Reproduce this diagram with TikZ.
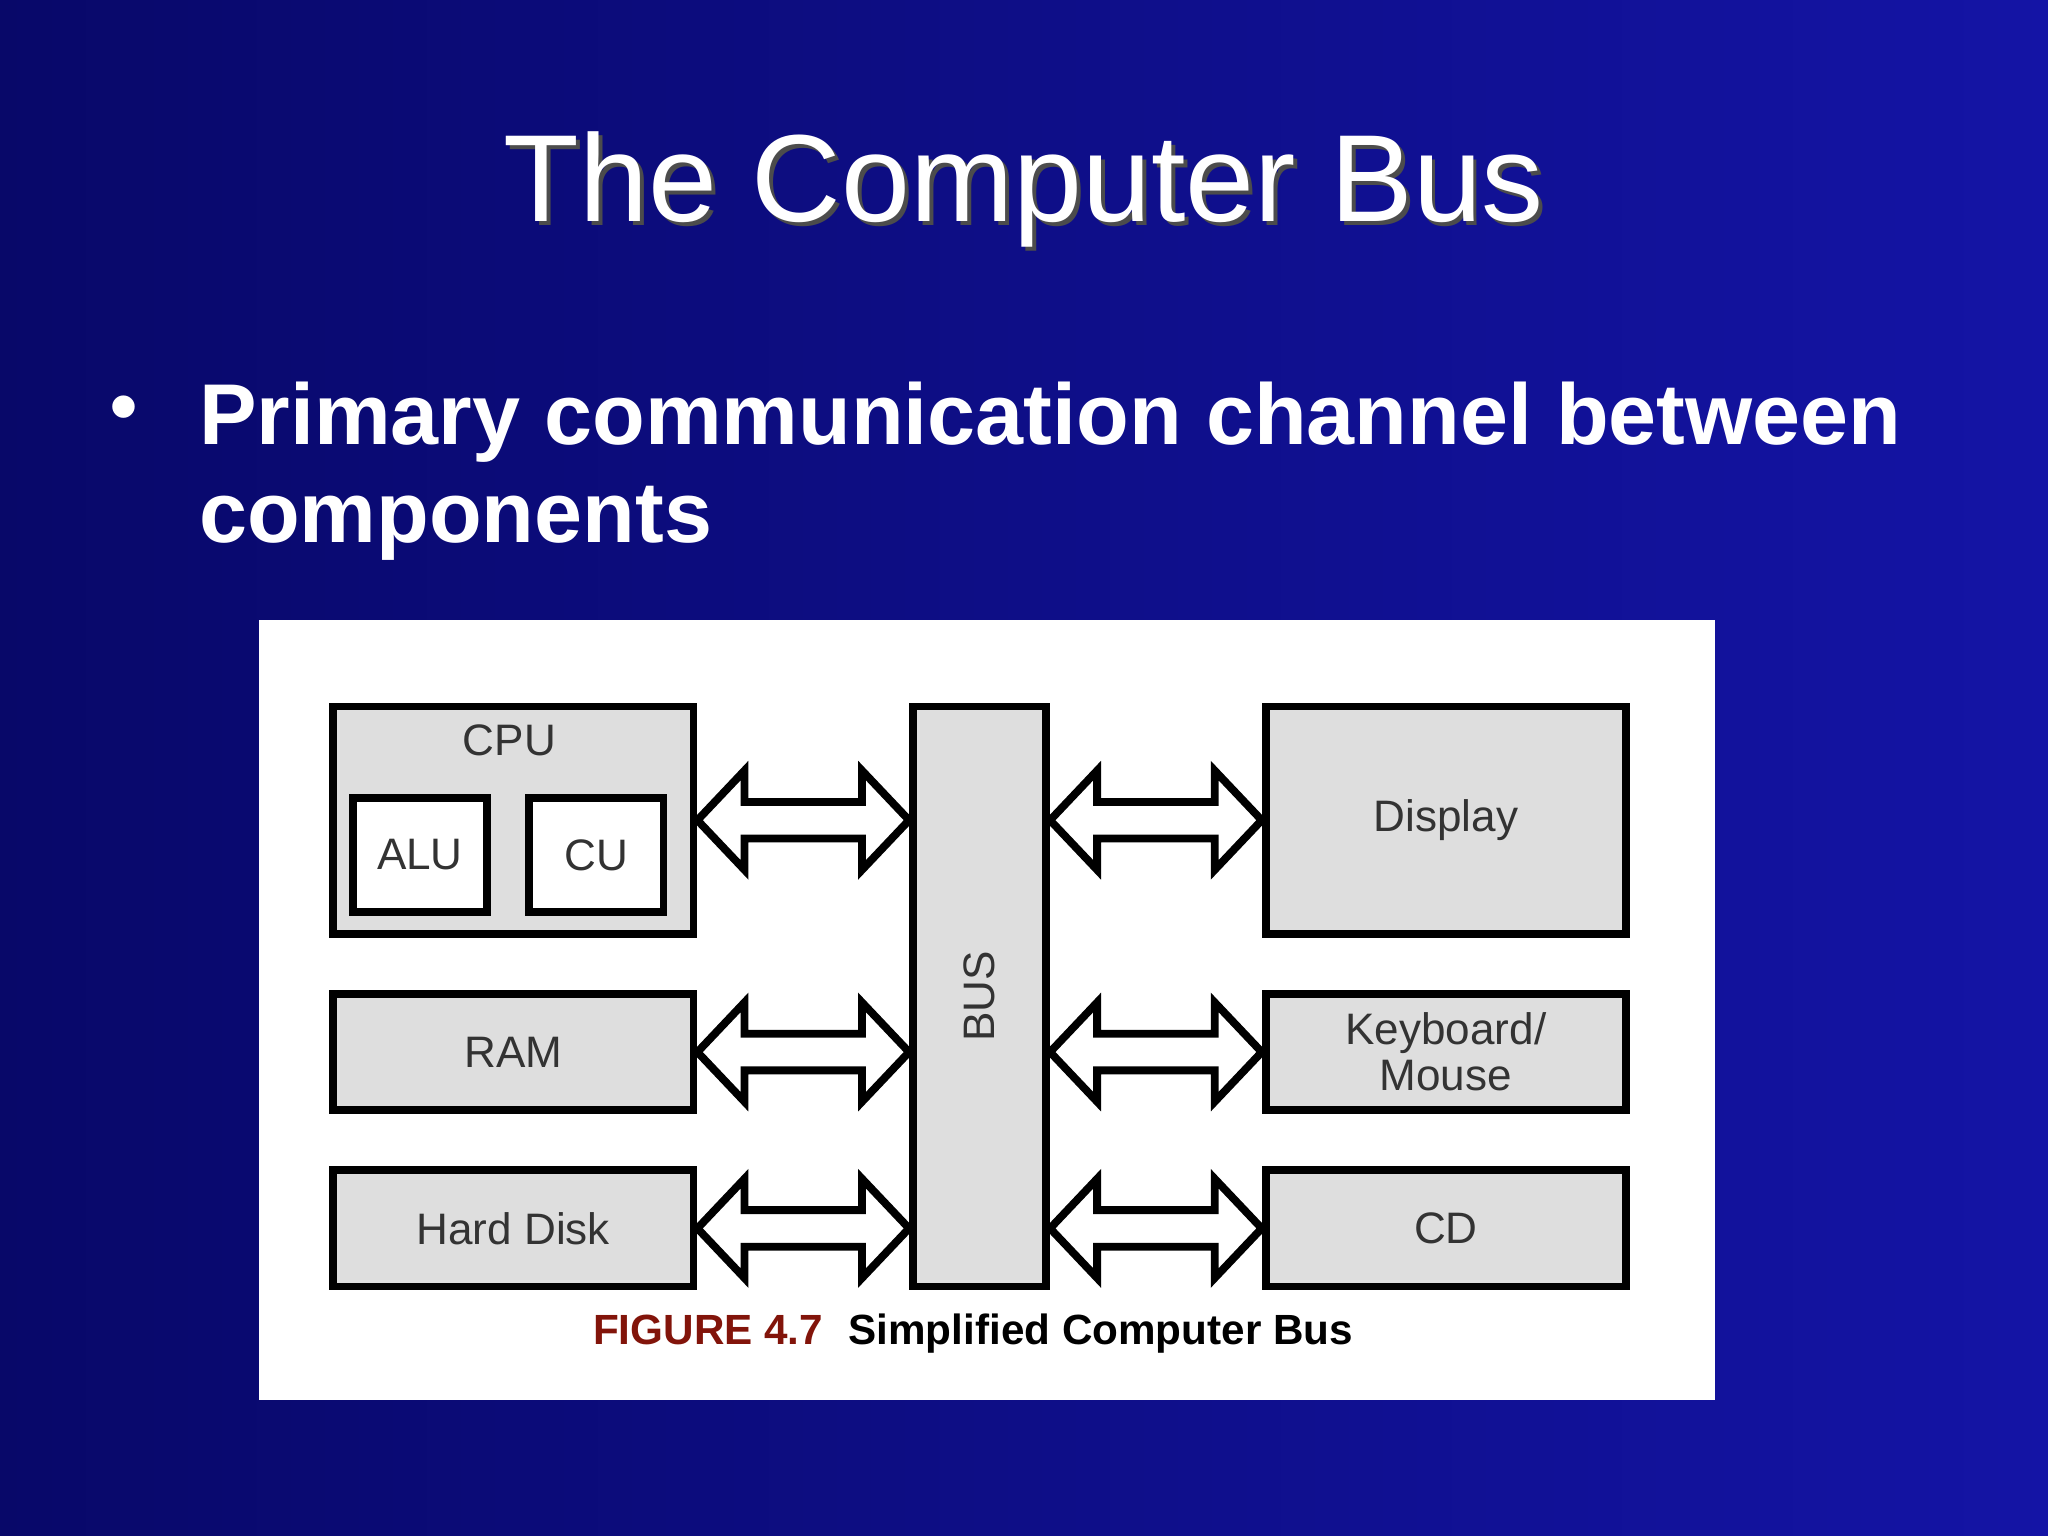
\documentclass[tikz,border=0pt]{standalone}
\usepackage{fontspec}
\setmainfont{Liberation Sans}
\usepackage{tikz}
\usetikzlibrary{positioning,calc}
\definecolor{navy}{RGB}{8,8,105}
\definecolor{slideblue}{RGB}{20,20,165}
\definecolor{boxgray}{RGB}{222,222,222}
\definecolor{figred}{RGB}{130,20,10}
\tikzstyle{unit} = [rectangle, draw=black, line width=1.7pt, fill=boxgray, text=black!80, font=\fontsize{9.6}{11}\selectfont, align=center, inner sep=0pt]
\tikzstyle{sub} = [unit, fill=white, minimum width=1.03cm, minimum height=0.87cm]
\tikzstyle{side} = [unit, minimum width=2.76cm]
\tikzstyle{busarrow} = [draw=black, line width=1.7pt, fill=white, line join=miter]
\newcommand{\busarrow}[2]{%
  \draw[busarrow] let \p1=(#1), \p2=(#2) in
    (\x1,\y1) -- ++(0.36,0.38) -- ++(0,-0.24) -- (\x2-0.36cm,\y1+0.14cm) -- ++(0,0.24)
    -- (\x2,\y1) -- ++(-0.36,-0.38) -- ++(0,0.24) -- (\x1+0.36cm,\y1-0.14cm) -- ++(0,-0.24) -- cycle;}

\begin{document}
\begin{tikzpicture}
\useasboundingbox (0,0) rectangle (15.68,-11.76);
\shade[left color=navy, right color=slideblue] (0,0) rectangle (15.68,-11.76);

% Titel und Text
\node (titleshadow) [text=black!70, font=\fontsize{27}{32}\selectfont] at (7.87,-1.48) {The Computer Bus};
\node (title) [text=white, font=\fontsize{27}{32}\selectfont] at (7.84,-1.45) {The Computer Bus};
\node (bullet) [text=white, font=\fontsize{18}{22}\selectfont] at (0.95,-3.18) {\textbullet};
\node (point) [text=white, font=\bfseries\fontsize{18.8}{21.3}\selectfont, align=left, anchor=north west] at (1.40,-2.80) {Primary communication channel between\\components};

% Abbildung
\fill[white] (1.98,-4.75) rectangle (13.13,-10.72);

\node (cpu) [unit, minimum width=2.76cm, minimum height=1.74cm, anchor=north west] at (2.52,-5.38) {};
\node (cpulabel) [text=black!80, font=\fontsize{9.6}{11}\selectfont] at (3.90,-5.67) {CPU};
\node (alu) [sub] at (3.215,-6.545) {ALU};
\node (cu) [sub] at (4.565,-6.545) {CU};
\node (ram) [side, minimum height=0.89cm, anchor=north west] at (2.52,-7.58) {RAM};
\node (disk) [side, minimum height=0.89cm, anchor=north west] at (2.52,-8.93) {Hard Disk};

\node (bus) [unit, minimum width=1.02cm, minimum height=4.44cm, anchor=north west] at (6.96,-5.38) {};
\node (buslabel) [text=black!80, font=\fontsize{9.6}{11}\selectfont, rotate=90] at (bus.center) {BUS};

\node (display) [side, minimum height=1.74cm, anchor=north west] at (9.66,-5.38) {Display};
\node (keys) [side, minimum height=0.89cm, anchor=north west, font=\fontsize{9.6}{10}\selectfont] at (9.66,-7.58) {Keyboard/\\Mouse};
\node (cd) [side, minimum height=0.89cm, anchor=north west] at (9.66,-8.93) {CD};

% Pfeile
\busarrow{cpu.east}{bus.west |- cpu.east}
\busarrow{ram.east}{bus.west |- ram.east}
\busarrow{disk.east}{bus.west |- disk.east}
\busarrow{bus.east |- display.west}{display.west}
\busarrow{bus.east |- keys.west}{keys.west}
\busarrow{bus.east |- cd.west}{cd.west}

\node (caption) [font=\bfseries\fontsize{9.2}{11}\selectfont] at (7.45,-10.21) {\textcolor{figred}{FIGURE 4.7}\hspace{0.6em}Simplified Computer Bus};
\end{tikzpicture}
\end{document}
